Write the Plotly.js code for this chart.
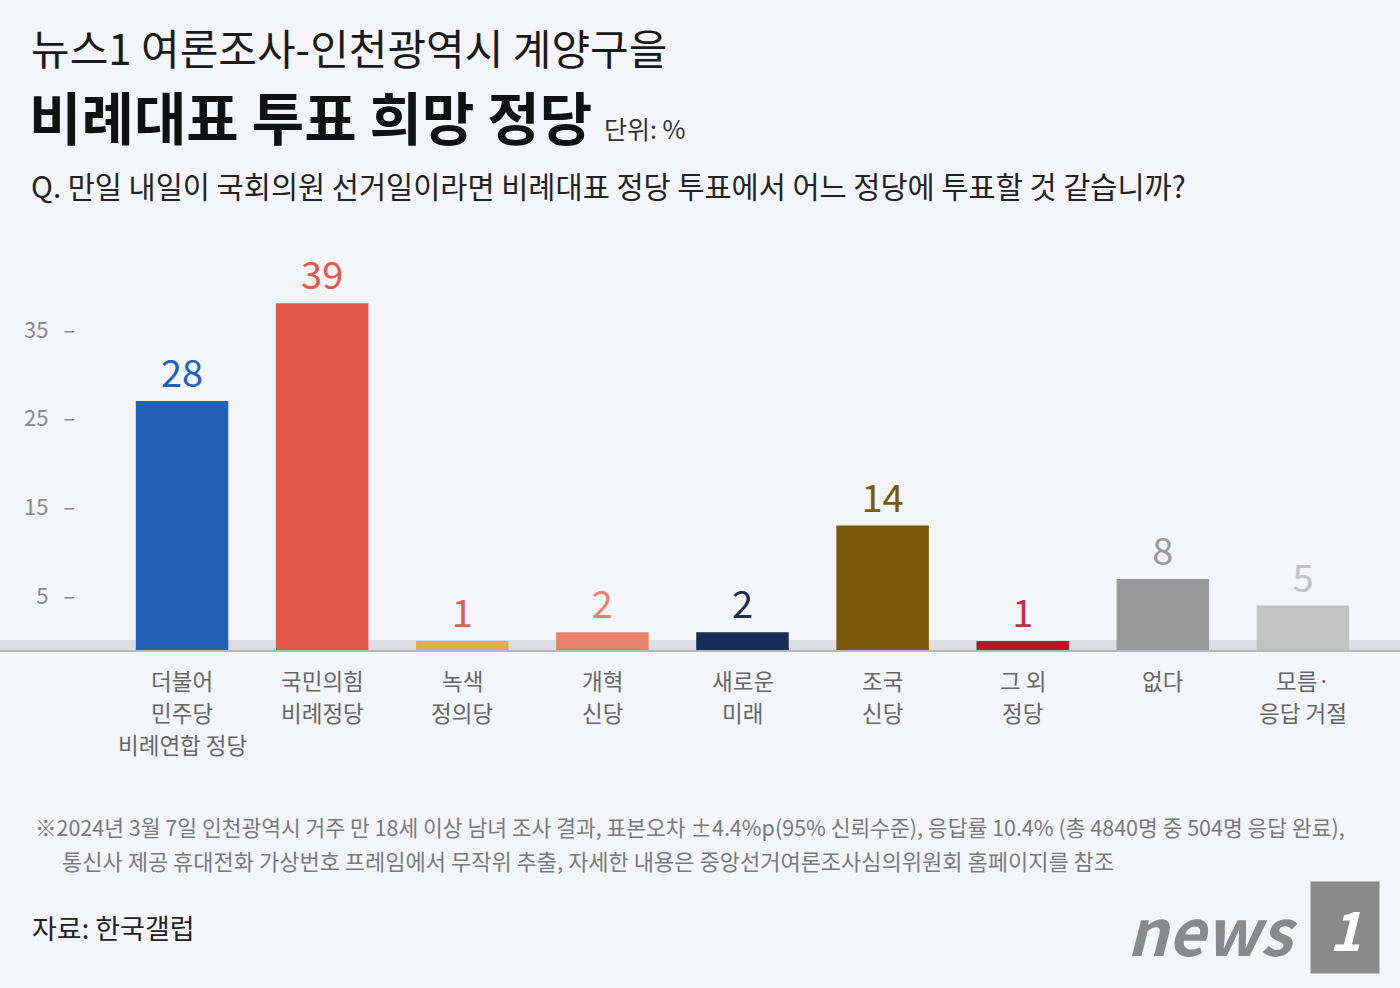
<!DOCTYPE html>
<html>
<head>
<meta charset="utf-8">
<script src="https://cdn.plot.ly/plotly-3.0.1.min.js"></script>
<style>
  html, body { margin: 0; padding: 0; background: #f3f5f9; }
  #chart { width: 1400px; height: 988px; }
</style>
</head>
<body>
<div id="chart"></div>
<script>
// data
var parties = ['더불어<br>민주당<br>비례연합 정당', '국민의힘<br>비례정당', '녹색<br>정의당', '개혁<br>신당',
    '새로운<br>미래', '조국<br>신당', '그 외<br>정당', '없다', '모름·<br>응답 거절'];
var shares = [28, 39, 1, 2, 2, 14, 1, 8, 5];
var barColors = ['#2262b5', '#e5574a', '#dcb052', '#e8826f', '#1b2b57', '#7a5a08', '#c0102a', '#9a9a9a', '#c2c2c2'];
var textColors = ['#2262b5', '#e5574a', '#dc6050', '#e8826f', '#1b2b57', '#7a5a08', '#c0304a', '#9a9a9a', '#c2c2c2'];
var yTicks = [35, 25, 15, 5];

var FONT = '"Noto Sans CJK KR", "Noto Sans", sans-serif';
var W = 1400, H = 988;
var mL = 112, mR = 27, mT = 250, mB = 338;

// pixel -> paper helpers for the text block
function px(x) { return (x - mL) / (W - mL - mR); }
function py(y) { return (H - mB - y) / (H - mT - mB); }

var cats = parties.map(function (p, i) { return 'c' + i; });

var data = [{
    type: 'bar',
    x: cats,
    y: shares,
    marker: {color: barColors},
    text: shares.map(String),
    textposition: 'outside',
    textfont: {family: FONT, size: 38, color: textColors},
    constraintext: 'none',
    cliponaxis: false,
    hoverinfo: 'none'
}];

function note(x, y, text, size, color, anchor, extra) {
    var a = {
        xref: 'paper', yref: 'paper', x: px(x), y: py(y),
        xanchor: anchor || 'left', yanchor: 'middle',
        text: text, showarrow: false,
        font: {family: FONT, size: size, color: color}
    };
    for (var k in extra) a[k] = extra[k];
    return a;
}

var annotations = [
    note(29, 47, '뉴스1 여론조사-인천광역시 계양구을', 42, '#1a1a1a'),
    note(27, 115, '<b>비례대표 투표 희망 정당</b>', 57, '#111111'),
    note(602, 128, '단위: %', 25, '#333333'),
    note(29, 185, 'Q. 만일 내일이 국회의원 선거일이라면 비례대표 정당 투표에서 어느 정당에 투표할 것 같습니까?', 29.5, '#222222'),
    note(33, 826, '※2024년 3월 7일 인천광역시 거주 만 18세 이상 남녀 조사 결과, 표본오차 ±4.4%p(95% 신뢰수준), 응답률 10.4% (총 4840명 중 504명 응답 완료),', 21.5, '#7a7a7a'),
    note(60, 860, '통신사 제공 휴대전화 가상번호 프레임에서 무작위 추출, 자세한 내용은 중앙선거여론조사심의위원회 홈페이지를 참조', 22, '#7a7a7a'),
    note(30, 928, '자료: 한국갤럽', 27, '#222222'),
    note(1300, 928, '<b><i>news</i></b>', 64, '#8a8a8a', 'right'),
    note(1345, 928, '<b><i> 1 </i></b>', 54, '#ffffff', 'center', {bgcolor: '#8a8a8a', borderpad: 6})
];

// category labels, one line each, under the baseline
parties.forEach(function (p, i) {
    p.split('<br>').forEach(function (line, j) {
        annotations.push({
            xref: 'x', yref: 'paper', x: cats[i], y: py(680 + 32 * j),
            xanchor: 'center', yanchor: 'middle',
            text: line, showarrow: false,
            font: {family: FONT, size: 22.5, color: '#666666'}
        });
    });
});

var shapes = [
    {type: 'rect', xref: 'paper', yref: 'paper', x0: px(0), x1: px(W), y0: py(650), y1: py(640),
        fillcolor: '#dcdee3', line: {width: 0}, layer: 'below'},
    {type: 'line', xref: 'paper', yref: 'paper', x0: px(0), x1: px(W), y0: py(651), y1: py(651),
        line: {color: '#b4b7bc', width: 2}, layer: 'below'}
];

var layout = {
    width: W, height: H,
    margin: {l: mL, r: mR, t: mT, b: mB},
    paper_bgcolor: '#f3f5f9',
    plot_bgcolor: 'rgba(0,0,0,0)',
    showlegend: false,
    bargap: 0.34,
    font: {family: FONT},
    xaxis: {
        type: 'category',
        showticklabels: false,
        ticks: '',
        showgrid: false, zeroline: false, showline: false,
        fixedrange: true
    },
    yaxis: {
        range: [0, 45],
        tickvals: yTicks,
        ticktext: yTicks.map(function (v) { return v + '   –'; }),
        tickfont: {family: FONT, size: 22, color: '#8a8a8a'},
        ticks: '',
        ticklabelstandoff: 36,
        ticklabelshift: -9,
        showgrid: false, zeroline: false, showline: false,
        fixedrange: true
    },
    annotations: annotations,
    shapes: shapes
};

Plotly.newPlot('chart', data, layout, {displayModeBar: false, staticPlot: true});
</script>
</body>
</html>
